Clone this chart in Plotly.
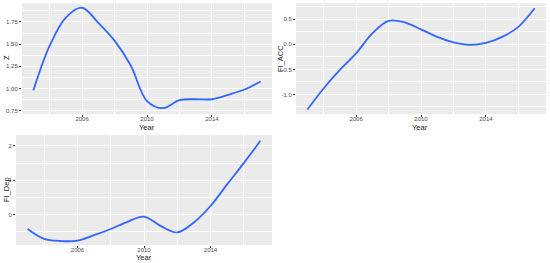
import plotly.graph_objects as go

# smoothed series at each year
years = list(range(2003, 2018))
z_vals = [0.98, 1.48, 1.80, 1.91, 1.74, 1.54, 1.26, 0.86, 0.78, 0.87, 0.88, 0.88, 0.93, 0.99, 1.08]
fi_acc = [-1.30, -0.88, -0.51, -0.18, 0.22, 0.47, 0.44, 0.30, 0.15, 0.04, -0.01, 0.03, 0.15, 0.35, 0.72]
fi_dep = [-0.42, -0.71, -0.77, -0.76, -0.60, -0.42, -0.21, -0.06, -0.33, -0.52, -0.23, 0.25, 0.88, 1.50, 2.15]

x_ticks = [2006, 2010, 2014]
x_minor = [2004, 2008, 2012, 2016]
z_ticks = [0.75, 1.00, 1.25, 1.50, 1.75]
z_labels = ["0.75", "1.00", "1.25", "1.50", "1.75"]
acc_ticks = [-1.0, -0.5, 0.0, 0.5]
acc_labels = ["-1.0", "-0.5", "0.0", "0.5"]
dep_ticks = [0, 1, 2]
dep_labels = ["0", "1", "2"]

W, H = 550, 263
LINE = "#3366FF"
PANEL = "#EBEBEB"
FONT = "Liberation Sans"

fig = go.Figure()
fig.add_trace(go.Scatter(x=years, y=z_vals, mode="lines", line=dict(color=LINE, width=1.8, shape="spline"),
                         xaxis="x", yaxis="y"))
fig.add_trace(go.Scatter(x=years, y=fi_acc, mode="lines", line=dict(color=LINE, width=1.8, shape="spline"),
                         xaxis="x2", yaxis="y2"))
fig.add_trace(go.Scatter(x=years, y=fi_dep, mode="lines", line=dict(color=LINE, width=1.8, shape="spline"),
                         xaxis="x3", yaxis="y3"))


def xax(dom, anchor):
    return dict(domain=dom, anchor=anchor, range=[2002.3, 2017.7], tickvals=x_ticks,
                ticktext=[str(t) for t in x_ticks], showgrid=True, gridcolor="white", gridwidth=1,
                minor=dict(tickvals=x_minor, showgrid=True, gridcolor="white", gridwidth=0.5),
                ticks="outside", ticklen=2, tickcolor="#333333", zeroline=False, showline=False,
                ticklabelstandoff=-3,
                automargin=False, tickfont=dict(size=6, color="#4d4d4d", family=FONT))


def yax(dom, anchor, rng, tv, tt, minor):
    return dict(domain=dom, anchor=anchor, range=rng, tickvals=tv, ticktext=tt,
                showgrid=True, gridcolor="white", gridwidth=1,
                minor=dict(tickvals=minor, showgrid=True, gridcolor="white", gridwidth=0.5),
                ticks="outside", ticklen=2, tickcolor="#333333", zeroline=False, showline=False,
                automargin=False, tickfont=dict(size=6, color="#4d4d4d", family=FONT))


top = [1 - 114 / H, 1 - 3.3 / H]
bot = [1 - 245 / H, 1 - 135 / H]

fig.update_layout(
    width=W, height=H, margin=dict(l=0, r=0, t=0, b=0, autoexpand=False),
    paper_bgcolor="white", plot_bgcolor="white", showlegend=False,
    xaxis=xax([22 / W, 272 / W], "y"),
    xaxis2=xax([296 / W, 546 / W], "y2"),
    xaxis3=xax([16 / W, 272 / W], "y3"),
    yaxis=yax(top, "x", [0.714, 1.960], z_ticks, z_labels, [0.875, 1.125, 1.375, 1.625, 1.875]),
    yaxis2=yax(top, "x2", [-1.39, 0.82], acc_ticks, acc_labels, [-1.25, -0.75, -0.25, 0.25, 0.75]),
    yaxis3=yax(bot, "x3", [-0.886, 2.32], dep_ticks, dep_labels, [-0.5, 0.5, 1.5]),
)

# grey panel backgrounds
for xr, yr in [("x", "y"), ("x2", "y2"), ("x3", "y3")]:
    fig.add_shape(type="rect", xref=xr + " domain", yref=yr + " domain", x0=0, x1=1, y0=0, y1=1,
                  fillcolor=PANEL, line=dict(width=0), layer="below")

# axis titles placed like the ggplot output
tfont = dict(size=7.5, color="#1a1a1a", family=FONT)
titles = [
    ("Year", 147, 127.5, 0), ("Year", 420, 127.5, 0), ("Year", 144, 257, 0),
    ("Z", 6, 58, -90), ("FI_ACC", 280, 58, -90), ("FI_Dep", 6, 190, -90),
]
for txt, px, py, ang in titles:
    fig.add_annotation(text=txt, x=px / W, y=1 - py / H, xref="paper", yref="paper",
                       showarrow=False, textangle=ang, font=tfont, xanchor="center", yanchor="middle")

# drop the default body margin so the figure sits at the window's corner
fig.write_html("out.html", config={"displayModeBar": False},
               post_script="document.body.style.margin='0';")
